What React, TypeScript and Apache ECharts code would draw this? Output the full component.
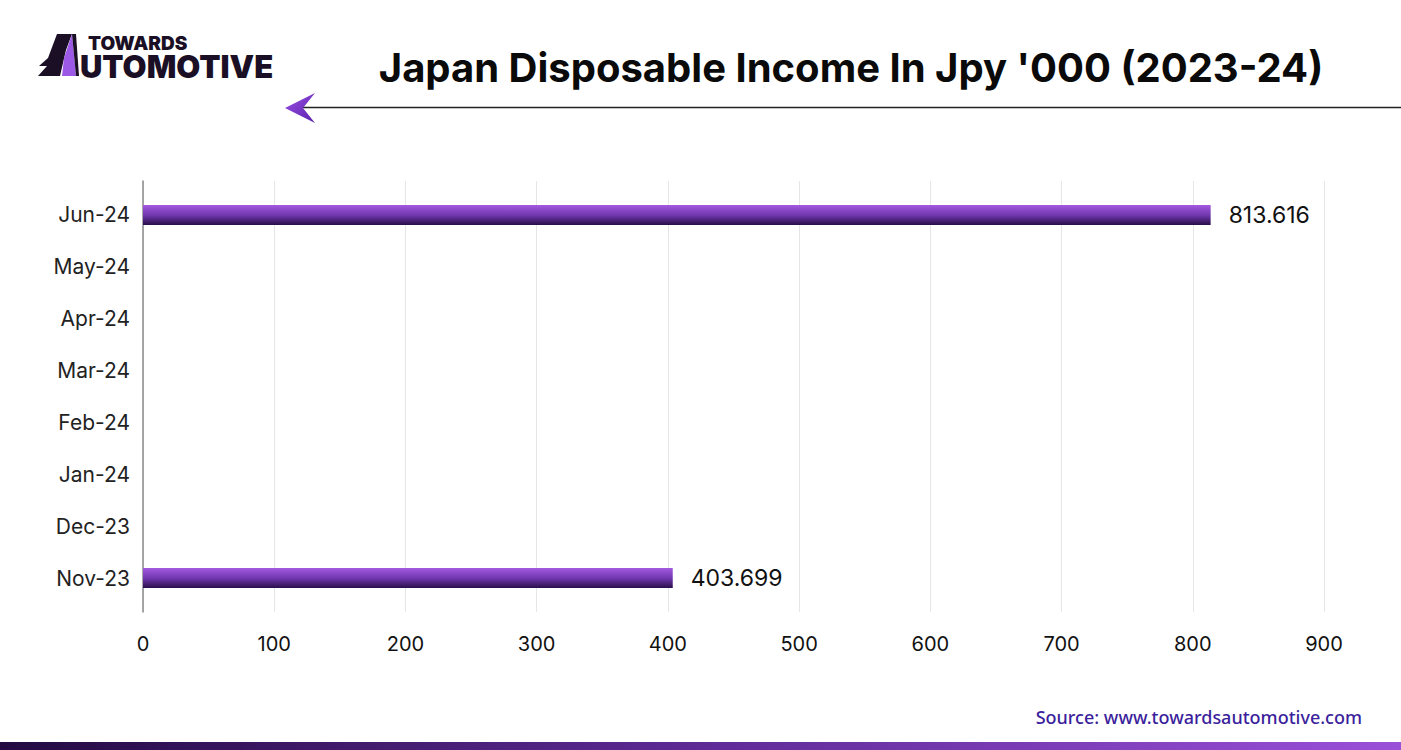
import React, { useEffect, useRef } from "react";
import * as echarts from "echarts";

const categories = ["Nov-23", "Dec-23", "Jan-24", "Feb-24", "Mar-24", "Apr-24", "May-24", "Jun-24"];
const values: (number | null)[] = [403.699, null, null, null, null, null, null, 813.616];
const xTicks = [0, 100, 200, 300, 400, 500, 600, 700, 800, 900];
const titleText = "Japan Disposable Income In Jpy '000 (2023-24)";
const sourceText = "Source: www.towardsautomotive.com";

export default function App() {
  const ref = useRef<HTMLDivElement>(null);
  useEffect(() => {
    if (!ref.current) return;
    const chart = echarts.init(ref.current, null, { renderer: "svg" });
    const font = "Inter, 'Noto Sans', sans-serif";
    const option: any = {
      animation: false,
      backgroundColor: "#ffffff",
      grid: [
        { left: 143, right: 77, top: 189, height: 415 },
        { left: 143, right: 77, top: 181, height: 431 },
      ],
      xAxis: [
        {
          gridIndex: 0,
          type: "value",
          min: xTicks[0],
          max: xTicks[xTicks.length - 1],
          interval: 100,
          show: false,
        },
        {
          gridIndex: 1,
          type: "value",
          min: xTicks[0],
          max: xTicks[xTicks.length - 1],
          interval: 100,
          axisLine: { show: false },
          axisTick: { show: false },
          splitLine: { show: true, lineStyle: { color: "#e6e6e6", width: 1 } },
          axisLabel: { color: "#111", fontSize: 20, fontFamily: font, margin: 22 },
        },
      ],
      yAxis: [
        {
          gridIndex: 0,
          type: "category",
          data: categories,
          axisLine: { show: false },
          axisTick: { show: false },
          axisLabel: { color: "#222", fontSize: 21, fontFamily: font, margin: 13 },
        },
        {
          gridIndex: 1,
          type: "value",
          min: 0,
          max: 1,
          axisLine: { show: true, lineStyle: { color: "#8a8a8a", width: 1.5 } },
          axisTick: { show: false },
          axisLabel: { show: false },
          splitLine: { show: false },
        },
      ],
      series: [
        {
          type: "bar",
          xAxisIndex: 0,
          yAxisIndex: 0,
          data: values,
          barWidth: 20,
          itemStyle: {
            color: new echarts.graphic.LinearGradient(0, 0, 0, 1, [
              { offset: 0, color: "#a35ae0" },
              { offset: 0.5, color: "#7238b0" },
              { offset: 1, color: "#2a0f4a" },
            ]),
          },
          label: {
            show: true,
            position: "right",
            distance: 18,
            color: "#111",
            fontSize: 23,
            fontFamily: font,
            formatter: (p: any) => (p.value == null ? "" : String(p.value)),
          },
        },
      ],
      graphic: [
        {
          type: "text",
          style: {
            text: titleText,
            x: 851,
            y: 67,
            align: "center",
            verticalAlign: "middle",
            fontSize: 40,
            fontWeight: 700,
            fontFamily: font,
            fill: "#0a0a0a",
          },
        },
        {
          type: "line",
          shape: { x1: 300, y1: 107.5, x2: 1401, y2: 107.5 },
          style: { stroke: "#222", lineWidth: 1.5 },
        },
        {
          type: "polygon",
          shape: { points: [[285, 108], [315, 93], [303, 108], [315, 123]] },
          style: {
            fill: new echarts.graphic.LinearGradient(0, 0, 1, 1, [
              { offset: 0, color: "#9b4fe0" },
              { offset: 1, color: "#5a22b0" },
            ]),
          },
        },
        // logo
        {
          type: "polygon",
          shape: { points: [[57, 34], [72, 34], [66, 50], [60, 76], [38, 76], [47, 66], [39, 66], [48, 58]] },
          style: { fill: "#1a0f24" },
        },
        {
          type: "polygon",
          shape: { points: [[72, 34], [76, 76], [62, 76], [64, 58]] },
          style: { fill: "#9b59e6" },
        },
        {
          type: "polygon",
          shape: { points: [[72, 34], [76, 34], [79, 76], [76, 76]] },
          style: { fill: "#1a0f24" },
        },
        {
          type: "text",
          style: {
            text: "{a|TOWARDS}\n{b|UTOMOTIVE}",
            x: 80,
            y: 32,
            verticalAlign: "top",
            fontFamily: font,
            fill: "#1a0f24",
            rich: {
              a: {
                fontSize: 19,
                lineHeight: 22,
                fontWeight: 900,
                fontFamily: font,
                fill: "#1a0f24",
                padding: [0, 0, 0, 8],
              },
              b: {
                fontSize: 31,
                lineHeight: 24,
                fontWeight: 900,
                fontFamily: font,
                fill: "#1a0f24",
              },
            },
          },
        },
        {
          type: "text",
          style: {
            text: sourceText,
            x: 1362,
            y: 717,
            align: "right",
            verticalAlign: "middle",
            fontSize: 18,
            fontWeight: 500,
            fontFamily: "'Noto Sans', sans-serif",
            fill: "#3b1f9c",
          },
        },
        {
          type: "rect",
          shape: { x: 0, y: 742, width: 1401, height: 8 },
          style: {
            fill: new echarts.graphic.LinearGradient(0, 0, 1, 0, [
              { offset: 0, color: "#230b42" },
              { offset: 0.5, color: "#5e2a96" },
              { offset: 1, color: "#9a50d9" },
            ]),
          },
        },
      ],
    };
    chart.setOption(option);
    return () => chart.dispose();
  }, []);
  return (
    <div
      ref={ref}
      style={{ position: "fixed", left: 0, top: 0, width: 1401, height: 750 }}
    />
  );
}
